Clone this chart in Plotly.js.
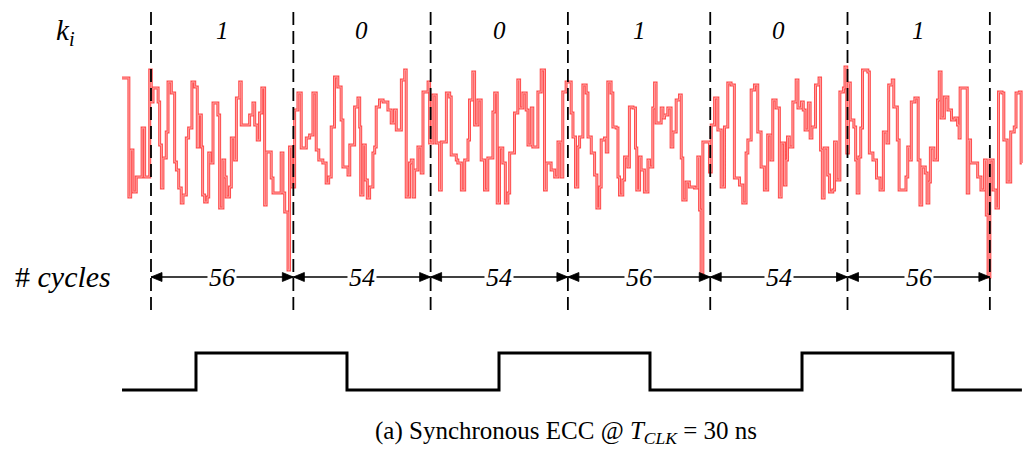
<!DOCTYPE html>
<html>
<head>
<meta charset="utf-8">
<script src="https://cdn.plot.ly/plotly-3.0.1.min.js"></script>
<style>html,body{margin:0;padding:0;background:#fff;}#chart{width:1024px;height:450px;}</style>
</head>
<body>
<div id="chart"></div>
<script>
// ---- data ----
// key bits processed per scalar-multiplication step and their cycle counts
const keyBits = ['1', '0', '0', '1', '0', '1'];
const cycleCounts = [56, 54, 54, 56, 54, 56];

// power trace: step start time (clock cycles) and relative power level
const traceT = [-11.4,-8.7,-8.0,-7.1,-5.8,-3.5,-2.5,-0.5,0.1,0.8,2.8,3.4,4.1,4.7,6.0,6.7,8.0,9.3,10.0,10.9,11.9,12.6,13.9,14.8,16.1,17.2,18.2,18.7,19.8,20.3,21.1,22.1,22.7,23.3,24.4,26.3,27.0,28.3,29.0,29.6,30.9,31.6,32.9,33.6,34.9,35.5,38.8,40.1,40.8,41.8,42.7,43.6,44.7,45.3,47.3,48.0,51.2,51.9,52.6,53.9,54.5,55.4,56.5,57.8,59.1,61.1,62.4,63.7,65.0,66.0,67.6,68.9,69.9,70.9,72.2,73.5,74.8,
75.5,77.5,78.2,80.1,81.4,82.1,82.5,83.4,84.3,85.1,86.0,87.3,88.0,88.6,89.9,91.3,93.2,94.5,95.8,96.5,98.5,99.8,100.4,101.7,102.4,103.1,103.7,105.0,106.3,107.0,109.0,109.6,110.9,112.2,113.5,114.2,116.2,117.5,118.1,120.1,120.7,122.1,123.4,124.7,125.3,126.6,127.3,128.6,129.9,131.2,132.5,134.5,135.2,136.2,137.1,138.4,139.4,140.4,141.1,143.0,144.3,145.0,146.3,147.6,148.3,149.6,150.2,152.2,153.5,154.8,155.5,157.4,158.8,160.1,161.4,162.0,163.3,
165.3,166.0,167.0,167.9,168.6,169.9,171.2,171.9,173.2,174.5,175.4,176.5,177.1,178.4,179.1,179.7,181.0,181.7,183.0,183.7,184.3,185.6,186.3,187.6,188.2,189.6,190.6,191.1,192.2,192.8,194.1,195.5,196.1,197.4,198.1,198.7,200.7,201.4,202.0,203.3,204.6,205.3,206.6,207.9,208.6,209.2,210.5,211.8,213.8,215.1,215.8,216.4,217.1,219.7,220.4,221.7,223.0,224.3,225.6,226.9,228.2,229.5,231.5,232.8,234.1,234.8,236.1,237.4,238.7,240.0,241.3,242.6,243.9,244.6,245.9,247.2,247.9,249.2,249.8,
250.4,251.1,252.5,253.8,254.5,255.9,256.6,257.3,258.6,259.3,260.0,261.4,262.8,263.4,264.1,264.8,266.2,266.9,268.2,268.9,269.6,271.0,272.4,273.0,273.7,274.4,275.1,276.5,277.2,277.8,278.5,279.2,279.9,282.0,282.6,284.0,285.4,286.8,288.1,289.5,290.2,291.6,292.2,293.6,294.3,297.0,297.7,298.4,299.1,300.5,301.8,302.5,303.2,304.6,305.3,306.0,306.6,308.0,309.4,310.1,310.8,312.1,313.5,314.9,316.2,317.3,317.9,318.3,321.1,321.7,322.4,325.2,326.5,327.9,328.6,329.3,330.0,331.3,332.4,333.4,334.8,335.5,336.8,338.2,339.6,340.3,341.6,342.3,342.6];
const traceP = [202,83,130,88,103,152,103,210,178,192,178,135,92,122,148,198,187,118,110,92,77,85,142,152,198,193,133,165,133,85,78,83,127,117,177,165,72,120,103,83,93,142,120,182,198,155,165,177,155,140,167,192,75,128,102,87,127,87,68,10,133,93,170,187,132,142,145,187,130,120,117,97,103,153,203,193,160,
113,105,135,173,182,153,85,135,100,82,93,127,133,173,180,178,170,157,170,150,200,210,83,117,120,83,110,133,107,188,198,137,185,137,90,138,187,183,125,120,117,90,120,140,180,208,155,180,120,90,122,168,187,77,132,117,77,87,127,167,200,172,187,170,135,172,133,188,210,90,117,110,103,138,103,188,198,
167,143,93,133,143,195,187,143,127,105,72,93,140,142,128,198,187,153,152,103,85,100,123,113,173,172,132,90,123,110,88,120,113,172,197,157,172,162,165,172,133,148,180,185,122,80,98,93,92,123,70,7,138,108,155,182,150,93,153,197,195,102,95,77,127,140,190,195,148,113,90,145,120,180,172,83,137,95,120,
143,133,178,200,172,178,170,150,177,142,153,195,202,130,82,132,105,88,90,138,100,188,192,213,127,197,160,153,120,87,123,152,210,208,127,120,102,90,148,137,195,200,173,140,90,103,133,120,178,182,120,75,113,107,77,98,132,120,180,208,162,183,170,160,162,155,142,192,87,140,117,103,90,120,65,3,120,90,72,188,187,140,98,148,153,187,188,117,117];

// clock signal: transition times (cycles) and logic level
const clkT = [-11.4, 17.7, 77.1, 136.9, 196.3, 256.1, 315.5, 342.6];
const clkLevel = [0, 1, 0, 1, 0, 1, 0, 0];

// ---- build figure ----
const bounds = [0];
cycleCounts.forEach(n => bounds.push(bounds[bounds.length - 1] + n));

const W = 1024, H = 450;
const xRange = [-59.4, 343.43];
const pxPerCycle = W / (xRange[1] - xRange[0]);

const serif = 'Liberation Serif';
const traces = [
  {x: traceT, y: traceP, yaxis: 'y2', mode: 'lines', line: {shape: 'hv', color: '#ff4f4f', width: 3}, hoverinfo: 'skip'},
  {x: traceT, y: traceP, yaxis: 'y2', mode: 'lines', line: {shape: 'hv', color: '#ffa0a0', width: 1}, hoverinfo: 'skip'},
  {x: clkT, y: clkLevel, yaxis: 'y3', mode: 'lines', line: {shape: 'hv', color: '#000', width: 3}, hoverinfo: 'skip'}
];

const arrowRow = 277;             // pixel row of the dimension arrows
const headLen = 11 / pxPerCycle;  // 11 px arrow head, in cycles
const headHalf = 4.5;             // half height in px rows

const shapes = bounds.map(b => ({
  type: 'line', xref: 'x', yref: 'y', x0: b, x1: b, y0: 12, y1: 316,
  line: {color: '#000', width: 1.8, dash: '13px,6px'}
}));

const annotations = [];
annotations.push({xref: 'paper', yref: 'y', x: 65 / W, xanchor: 'center', y: 32, text: '<i>k<sub>i</sub></i>', showarrow: false,
  font: {family: serif, size: 29, color: '#000'}});
annotations.push({xref: 'paper', yref: 'y', x: 63 / W, xanchor: 'center', y: 276, text: '# <i>cycles</i>', showarrow: false,
  font: {family: serif, size: 30, color: '#000'}});

for (let i = 0; i < cycleCounts.length; i++) {
  const L = bounds[i], R = bounds[i + 1], C = (L + R) / 2;
  annotations.push({xref: 'x', yref: 'y', x: C, y: 30, text: '<i>' + keyBits[i] + '</i>', showarrow: false,
    font: {family: serif, size: 25, color: '#000'}});
  // shaft
  shapes.push({type: 'line', xref: 'x', yref: 'y', x0: L, x1: R, y0: arrowRow, y1: arrowRow,
    line: {color: '#000', width: 1.6}});
  // arrow heads pointing to both boundaries
  [[L, 1], [R, -1]].forEach(([tip, dir]) => {
    const back = tip + dir * headLen;
    shapes.push({type: 'path', xref: 'x', yref: 'y',
      path: 'M' + tip + ',' + arrowRow + ' L' + back + ',' + (arrowRow - headHalf) + ' L' + back + ',' + (arrowRow + headHalf) + ' Z',
      fillcolor: '#000', line: {color: '#000', width: 0.8}});
  });
  annotations.push({xref: 'x', yref: 'y', x: C, y: arrowRow, text: '<i>' + cycleCounts[i] + '</i>', showarrow: false,
    bgcolor: '#fff', borderpad: 1, font: {family: serif, size: 26, color: '#000'}});
}
annotations.push({xref: 'paper', yref: 'y', x: 566 / W, xanchor: 'center', y: 432,
  text: '(a) Synchronous ECC @ <i>T<sub>CLK</sub></i> = 30 ns', showarrow: false,
  font: {family: serif, size: 25, color: '#000'}});

const layout = {
  width: W, height: H,
  margin: {l: 0, r: 0, t: 0, b: 0},
  font: {family: serif, color: '#000'},
  paper_bgcolor: '#fff', plot_bgcolor: '#fff',
  showlegend: false,
  xaxis: {range: xRange, visible: false, fixedrange: true},
  yaxis: {range: [H, 0], visible: false, fixedrange: true},
  yaxis2: {range: [-170, 280], overlaying: 'y', visible: false, fixedrange: true},
  yaxis3: {range: [-1.6216, 10.540], overlaying: 'y', visible: false, fixedrange: true},
  shapes: shapes,
  annotations: annotations
};

Plotly.newPlot('chart', traces, layout, {staticPlot: true, displayModeBar: false});
</script>
</body>
</html>
